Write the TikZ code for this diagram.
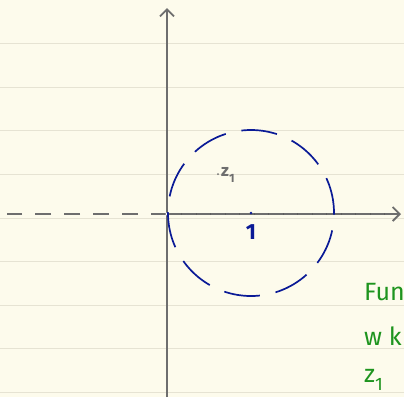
\documentclass[tikz,border=0pt]{standalone}
\usepackage{fontspec}
\setmainfont{Fira Sans}
\usetikzlibrary{arrows.meta}
\definecolor{paper}{HTML}{FDFBEC}
\definecolor{rule}{HTML}{E6E3D3}
\definecolor{axis}{HTML}{6E6E6E}
\definecolor{navy}{HTML}{0A1A96}
\definecolor{grn}{HTML}{1E941E}
\tikzset{
  axisline/.style={draw=axis, line width=1.8pt},
  ruleline/.style={draw=rule, line width=1pt},
  circ/.style={draw=navy, line width=1.7pt, dash pattern=on 36pt off 16pt},
  note/.style={text=grn, font=\fontsize{25}{30}\selectfont, anchor=west, inner sep=0pt},
}
\begin{document}
\begin{tikzpicture}[x=1pt,y=-1pt]
\clip (0,0) rectangle (404,397);
\fill[paper] (0,0) rectangle (404,397);
\foreach \y in {43.5,87,130.5,174,218,261.5,305,348.5,392}
  \draw[ruleline] (0,\y) -- (404,\y);
% axes
\coordinate (o) at (167,214);
\coordinate (ytop) at (167,8);
\coordinate (ybot) at (167,397);
\coordinate (xright) at (401,214);
\coordinate (xleft) at (7,214);
\draw[axisline, -{Straight Barb[length=7pt,width=14pt,line width=1.8pt]}] (ybot) -- (ytop);
\draw[axisline, -{Straight Barb[length=7pt,width=14pt,line width=1.8pt]}] (o) -- (xright);
\draw[axisline, dash pattern=on 16pt off 13pt] (o) -- (xleft);
\foreach \x in {181,196,210,225,239,254,268,283,297,312,326,341,355,370,384}
  \draw[axis!85!black, line width=0.5pt] (\x,213) -- (\x,215);
\fill[white] (o) circle[radius=1.6pt];
% circle
\coordinate (c) at (251,213);
\draw[circ] (c) circle[radius=83pt];
\fill[navy] (c) circle[radius=1.3pt];
\node[text=navy, font=\fontsize{22}{24}\selectfont\bfseries] (one) at (251,232) {1};
% z1
\coordinate (z) at (218,174);
\fill[axis] (z) circle[radius=1pt];
\node[text=axis, font=\fontsize{17}{18}\selectfont\bfseries, anchor=west, inner sep=0pt] (zl) at (221,175) {z\raisebox{-0.35em}{\fontsize{12}{12}\selectfont 1}};
% green notes
\node[note] (n1) at (364,292) {Fun};
\node[note] (n2) at (364,336) {w k};
\node[note] (n3) at (364,380) {z\raisebox{-0.3em}{\fontsize{18}{20}\selectfont 1}};
\end{tikzpicture}
\end{document}
